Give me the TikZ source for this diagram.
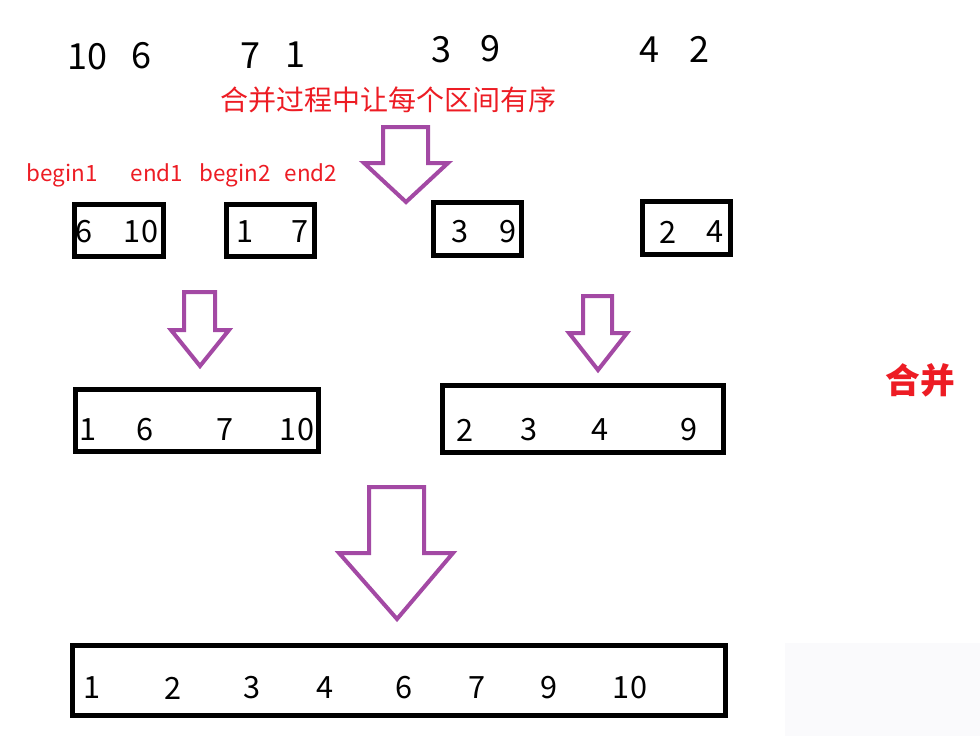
\documentclass[tikz,border=0pt]{standalone}
\usepackage{fontspec}
\setmainfont{Noto Sans CJK SC}
\newfontfamily\cjk{Noto Sans CJK SC}
\definecolor{redtxt}{HTML}{ED1C24}
\definecolor{arrowpurple}{HTML}{A349A4}
\definecolor{lightpanel}{HTML}{FAFAFC}
\tikzset{
  topnum/.style={inner sep=0pt, font=\fontsize{27pt}{30pt}\selectfont},
  boxnum/.style={inner sep=0pt, font=\fontsize{23pt}{26pt}\selectfont},
  redlabel/.style={inner sep=0pt, anchor=base, text=redtxt, font=\fontsize{16.8pt}{19pt}\selectfont},
  heading/.style={inner sep=0pt, text=redtxt, font=\cjk\fontsize{21pt}{24pt}\selectfont},
  boldhead/.style={inner sep=0pt, text=redtxt, font=\cjk\bfseries\fontsize{26pt}{29pt}\selectfont},
  numbox/.style={draw=black, line width=3.75pt},
  blockarrow/.style={draw=arrowpurple, line width=3pt, line join=miter, fill=white},
}
\begin{document}
\begin{tikzpicture}[x=0.75pt,y=-0.75pt]
\path[use as bounding box, fill=white] (0,0) rectangle (980,736);
\fill[lightpanel] (785,643) rectangle (980,736);

% top numbers
\node[topnum] (t10) at (87,57) {10};
\node[topnum] (t6) at (141,56) {6};
\node[topnum] (t7) at (250,56) {7};
\node[topnum] (t1) at (295,55) {1};
\node[topnum] (t3) at (441,50) {3};
\node[topnum] (t9) at (490,49) {9};
\node[topnum] (t4) at (649,50) {4};
\node[topnum] (t2) at (699,49) {2};

% heading
\node[heading] (head) at (388,100) {合并过程中让每个区间有序};

% begin/end labels
\node[redlabel] (b1) at (62,181) {begin1};
\node[redlabel] (e1) at (157,181) {end1};
\node[redlabel] (b2) at (235,181) {begin2};
\node[redlabel] (e2) at (311,181) {end2};

% top arrow
\draw[blockarrow] (383,127) -- (428,127) -- (428,163) -- (448,163) -- (406,202) -- (364,163) -- (383,163) -- cycle;

% small boxes
\draw[numbox] (74.5,204) rectangle (163,256) coordinate (box1);
\node[boxnum] (n6a) at (84,232) {6};
\node[boxnum] (n10a) at (141,232) {10};
\draw[numbox] (226,204) rectangle (314,256) coordinate (box2);
\node[boxnum] (n1a) at (245,232) {1};
\node[boxnum] (n7a) at (300,232) {7};
\draw[numbox] (433.5,202) rectangle (521.5,255) coordinate (box3);
\node[boxnum] (n3a) at (460,232) {3};
\node[boxnum] (n9a) at (508,232) {9};
\draw[numbox] (642.5,201) rectangle (730.5,254) coordinate (box4);
\node[boxnum] (n2a) at (668,232) {2};
\node[boxnum] (n4a) at (715,232) {4};

% middle arrows
\draw[blockarrow] (184,292) -- (215,292) -- (215,330) -- (229,330) -- (200,366) -- (171,330) -- (184,330) -- cycle;
\draw[blockarrow] (583,296) -- (612,296) -- (612,333) -- (627,333) -- (598,370) -- (569,333) -- (583,333) -- cycle;

% middle boxes
\draw[numbox] (75.5,389.5) rectangle (318.5,451.5) coordinate (box5);
\node[boxnum] (m1) at (88,430) {1};
\node[boxnum] (m6) at (145,430) {6};
\node[boxnum] (m7) at (225,430) {7};
\node[boxnum] (m10) at (297,430) {10};
\draw[numbox] (442.5,385.5) rectangle (723.5,452.5) coordinate (box6);
\node[boxnum] (m2) at (465,430) {2};
\node[boxnum] (m3) at (529,430) {3};
\node[boxnum] (m4) at (600,430) {4};
\node[boxnum] (m9) at (689,430) {9};

% bold label
\node[boldhead] (merge) at (920,380) {合并};

% bottom arrow
\draw[blockarrow] (369,487) -- (424,487) -- (424,553) -- (453,553) -- (397,619) -- (339,553) -- (369,553) -- cycle;

% bottom box
\draw[numbox] (72.5,645.5) rectangle (725.5,715) coordinate (box7);
\node[boxnum] (f1) at (92,688) {1};
\node[boxnum] (f2) at (173,688) {2};
\node[boxnum] (f3) at (252,688) {3};
\node[boxnum] (f4) at (325,688) {4};
\node[boxnum] (f6) at (404,688) {6};
\node[boxnum] (f7) at (477,688) {7};
\node[boxnum] (f9) at (549,688) {9};
\node[boxnum] (f10) at (630,688) {10};
\end{tikzpicture}
\end{document}
